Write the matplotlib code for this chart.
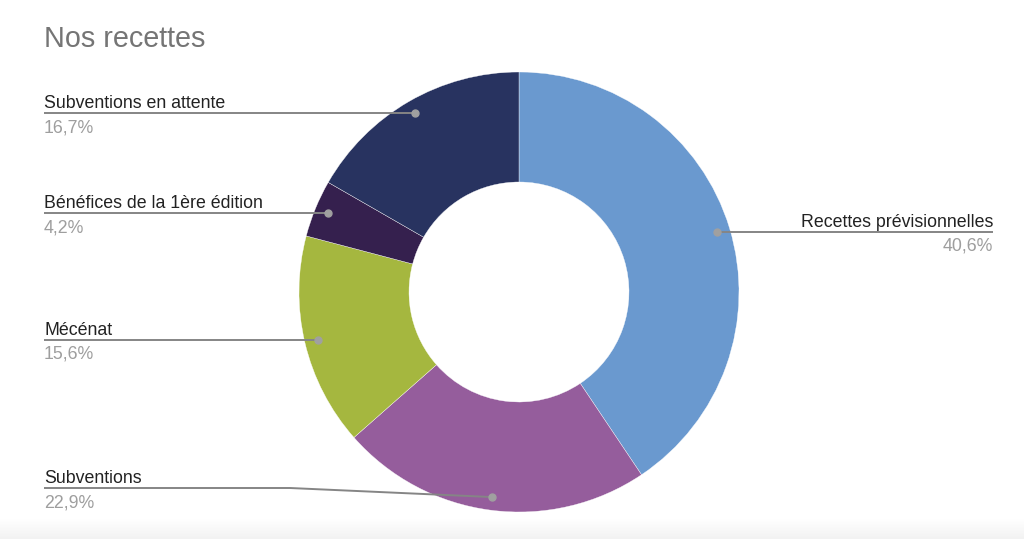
import numpy as np
import matplotlib
matplotlib.use("Agg")
import matplotlib.pyplot as plt

# ---- data ----
categories = ["Recettes prévisionnelles", "Subventions", "Mécénat",
              "Bénéfices de la 1ère édition", "Subventions en attente"]
values = [40.6, 22.9, 15.6, 4.2, 16.7]
pct_labels = ["40,6%", "22,9%", "15,6%", "4,2%", "16,7%"]
colors = ["#6a99cf", "#955d9c", "#a5b73f", "#35204e", "#283360"]
title = "Nos recettes"

W, H = 1024, 539
fig = plt.figure(figsize=(W / 100, H / 100), dpi=100)
fig.patch.set_facecolor("white")
plt.rcParams['font.family'] = ['Liberation Sans', 'DejaVu Sans']

# subtle gray gradient at the bottom
gax = fig.add_axes([0, 0, 1, 20 / H])
grad = np.linspace(0, 1, 50).reshape(-1, 1)
gax.imshow(grad, aspect="auto", cmap=matplotlib.colors.LinearSegmentedColormap.from_list(
    "g", ["#f2f2f2", "#ffffff"]), extent=[0, 1, 0, 1], origin="lower")
gax.axis("off")

# donut axes: center (519, 292) px, radius 220 px
cx, cy, R = 519, 292, 220
ax = fig.add_axes([(cx - R) / W, (H - cy - R) / H, 2 * R / W, 2 * R / H])
wedges, _ = ax.pie(values, colors=colors, startangle=90, counterclock=False,
                   radius=1.0, wedgeprops=dict(width=0.5, edgecolor="white", linewidth=0.25))
ax.set_xlim(-1, 1)
ax.set_ylim(-1, 1)
ax.set_aspect("equal")
ax.axis("off")


def px(x, y):
    return (x - cx) / R, (cy - y) / R


left_x = px(44, 0)[0]
right_x = px(993, 0)[0]
line_col = "#858585"
name_col = "#222222"
pct_col = "#9e9e9e"
fs = 12.8

# label lines y override for Subventions (elbowed)
elbow = {"Subventions": (488, 290)}

cum = 0
for cat, v, pl in zip(categories, values, pct_labels):
    mid = 90 - (cum + v / 2) / 100 * 360
    cum += v
    a = np.deg2rad(mid)
    dx, dy = 0.94 * np.cos(a), 0.94 * np.sin(a)
    right = dx > 0
    tx = right_x if right else left_x
    if cat in elbow:
        ly_px, ex_px = elbow[cat]
        ly = px(0, ly_px)[1]
        ex = px(ex_px, 0)[0]
        xs, ys = [tx, ex, dx], [ly, ly, dy]
    else:
        ly = dy
        xs, ys = [tx, dx], [ly, dy]
    ax.plot(xs, ys, color=line_col, lw=1.4, clip_on=False, solid_capstyle="butt", zorder=3)
    ax.plot([dx], [dy], "o", color="#a0a0a0", ms=5, clip_on=False, zorder=4)
    ha = "right" if right else "left"
    ax.text(tx, ly + 5 / R, cat, ha=ha, va="baseline", fontsize=fs, color=name_col, clip_on=False)
    ax.text(tx, ly - 6 / R, pl, ha=ha, va="top", fontsize=fs, color=pct_col, clip_on=False)

fig.text(44 / W, 1 - 47 / H, title, ha="left", va="baseline", fontsize=20.7, color="#757575")

fig.savefig("out.png", dpi=100, facecolor="white")
